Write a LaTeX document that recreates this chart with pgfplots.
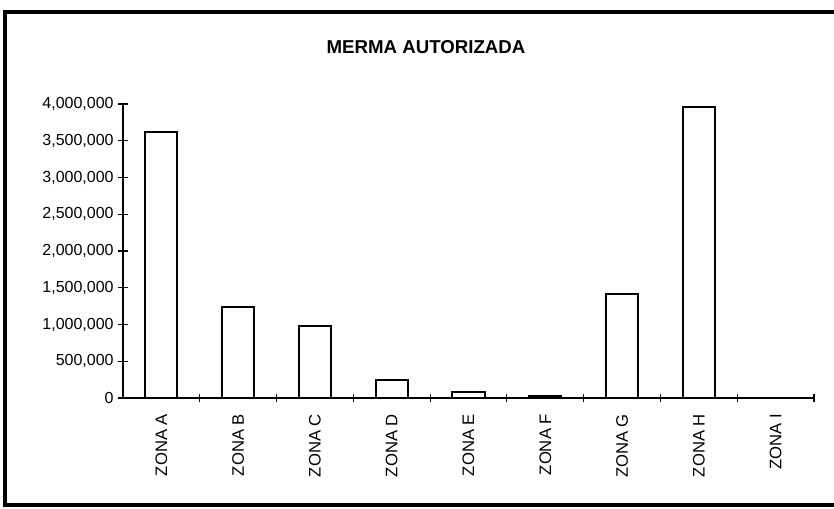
\documentclass[border=0pt]{standalone}
\usepackage{pgfplots}
\pgfplotsset{compat=1.18}
\usepackage{fontspec}
\setmainfont{Liberation Sans}
\begin{document}
\begin{tikzpicture}[x=0.75pt,y=0.75pt]
\useasboundingbox (0,0) rectangle (834,508);
\draw[line width=3pt] (5,1) -- (5,495.5) -- (834,495.5);
\draw[line width=3pt] (3,3) -- (834,3);
\node[font=\bfseries\fontsize{14}{16}\selectfont] at (426,461) {MERMA AUTORIZADA};
\begin{axis}[
  at={(92.25pt,82.5pt)}, anchor=origin,
  scale only axis, width=518.25pt, height=220.5pt,
  xmin=0.5, xmax=9.5, ymin=0, ymax=4000000,
  axis x line*=bottom, axis y line*=left,
  axis line style={line width=1.2pt,-},
  xtick={1,...,9},
  xticklabels={ZONA A,ZONA B,ZONA C,ZONA D,ZONA E,ZONA F,ZONA G,ZONA H,ZONA I},
  x tick label style={rotate=90, anchor=east, font=\fontsize{12.5}{14}\selectfont},
  xticklabel shift=5pt,
  minor xtick={1.5,2.5,...,9.5},
  major x tick style={draw=none},
  minor tick length=6pt,
  ytick={0,500000,...,4000000},
  yticklabel style={font=\fontsize{12}{14}\selectfont},
  /pgf/number format/assume math mode=true,
  scaled y ticks=false,
  yticklabel={\pgfmathprintnumber[fixed,precision=0,1000 sep={,}]{\tick}},
  tick align=center, major tick length=7pt,
  tick style={black, line width=0.9pt},
  clip=false,
]
\addplot[ybar, bar width=24pt, draw=black, line width=1.5pt, fill=white] coordinates {
(1,3615000) (2,1240000) (3,980000) (4,240000) (5,88000) (6,22000) (7,1410000) (8,3960000) (9,4000)
};
\end{axis}
\end{tikzpicture}
\end{document}
